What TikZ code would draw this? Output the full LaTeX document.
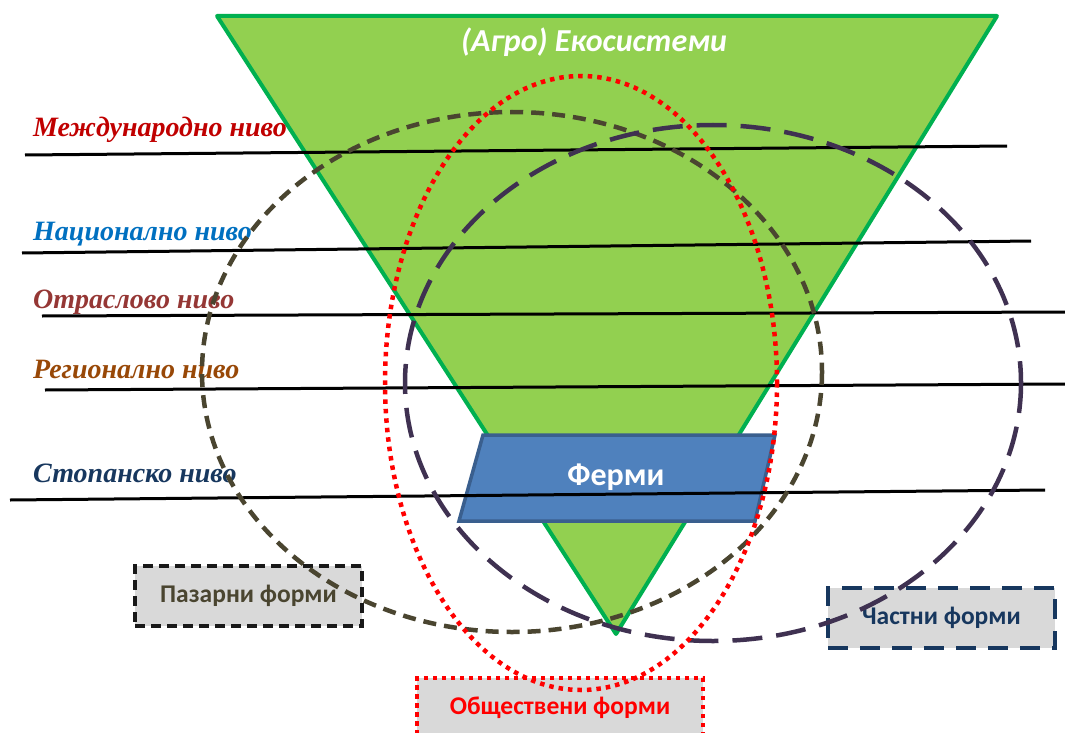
\documentclass[tikz,border=0pt]{standalone}
\usepackage{fontspec}
\setmainfont{Liberation Serif}
\newfontfamily\carlito{Carlito}
\definecolor{trifill}{HTML}{92D050}
\definecolor{triedge}{HTML}{00B050}
\definecolor{fermfill}{HTML}{4F81BD}
\definecolor{fermedge}{HTML}{3A5F8E}
\definecolor{olive}{HTML}{4A4530}
\definecolor{purp}{HTML}{3F3151}
\definecolor{navy}{HTML}{17375E}
\definecolor{boxgray}{HTML}{D9D9D9}
\definecolor{lvlA}{HTML}{C00000}
\definecolor{lvlB}{HTML}{0070C0}
\definecolor{lvlC}{HTML}{953735}
\definecolor{lvlD}{HTML}{984807}
\definecolor{lvlE}{HTML}{17375E}
\begin{document}
\begin{tikzpicture}[x=1pt,y=-1pt,
  lvl/.style={anchor=base west,inner sep=0pt,font=\fontsize{28}{30}\selectfont\bfseries\itshape},
  lvline/.style={line width=3pt,black},
  formbox/.style={fill=boxgray,line width=4pt,minimum width=#1,minimum height=60pt,inner sep=0pt,font=\carlito\fontsize{25.5}{27}\selectfont\bfseries},
  ell/.style={line width=4.5pt}
]
\useasboundingbox (0,0) rectangle (1065,733);
% triangle
\draw[fill=trifill,draw=triedge,line width=4pt,line join=round]
  (217,16) coordinate (t1) -- (997,16) coordinate (t2) -- (616,634) coordinate (t3) -- cycle;
\node[text=white,font=\carlito\fontsize{32}{34}\selectfont\bfseries\itshape] (title) at (594,42) {(Агро) Екосистеми};
% Ферми
\draw[fill=fermfill,draw=fermedge,line width=3.5pt]
  (483,435) -- (775,435) -- (755,521) -- (459,521) -- cycle;
\node[text=white,font=\carlito\fontsize{32}{34}\selectfont\bfseries] (ferm) at (616,477) {Ферми};
% level lines
\coordinate (a1) at (25,155); \coordinate (a2) at (1007,146);
\coordinate (b1) at (22,253); \coordinate (b2) at (1031,241);
\coordinate (c1) at (42,316); \coordinate (c2) at (1065,312);
\coordinate (d1) at (45,390); \coordinate (d2) at (1065,384);
\coordinate (e1) at (10,500); \coordinate (e2) at (1045,490);
\draw[lvline] (a1) -- (a2);
\draw[lvline] (b1) -- (b2);
\draw[lvline] (c1) -- (c2);
\draw[lvline] (d1) -- (d2);
\draw[lvline] (e1) -- (e2);
% labels
\node[lvl,text=lvlA] (la) at (33,137) {Международно ниво};
\node[lvl,text=lvlB] (lb) at (33,240) {Национално ниво};
\node[lvl,text=lvlC] (lc) at (33,308) {Отраслово ниво};
\node[lvl,text=lvlD] (ld) at (33,378) {Регионално ниво};
\node[lvl,text=lvlE] (le) at (33,482) {Стопанско ниво};
% boxes
\node[formbox=227pt,draw=black!90,dash pattern=on 10pt off 6pt,text=olive] (pf) at (248.5,596) {Пазарни форми};
\node[formbox=227pt,draw=navy,dash pattern=on 20pt off 12pt,text=navy] (cf) at (941.5,618) {Частни форми};
\node[formbox=286pt,draw=red,dash pattern=on 4.5pt off 4.5pt,text=red] (of) at (560,708) {Обществени форми};
% ellipses
\draw[ell,olive,dash pattern=on 13pt off 8pt] (512,372) ellipse [x radius=310,y radius=260];
\draw[ell,purp,dash pattern=on 30pt off 14pt] (713,383) ellipse [x radius=308,y radius=258];
\draw[ell,red,dash pattern=on 4.5pt off 5pt] (581,383) ellipse [x radius=196,y radius=307];
\end{tikzpicture}
\end{document}
